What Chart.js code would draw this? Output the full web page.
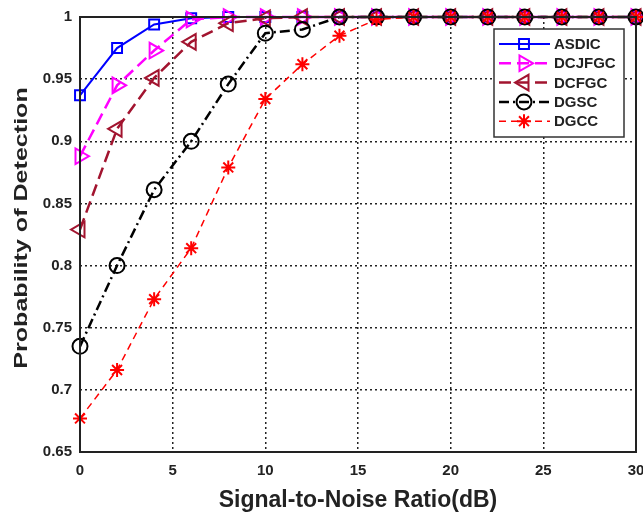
<!DOCTYPE html>
<html>
<head>
<meta charset="utf-8">
<script src="https://cdn.jsdelivr.net/npm/chart.js@4/dist/chart.umd.min.js"></script>
<style>
    html, body { margin: 0; padding: 0; background: #fff; }
    #wrap { width: 643px; height: 518px; }
</style>
</head>
<body>
<div id="wrap"><canvas id="pd"></canvas></div>
<script>
const snr = [0, 2, 4, 6, 8, 10, 12, 14, 16, 18, 20, 22, 24, 26, 28, 30];

const asdic  = [0.937, 0.975, 0.994, 0.999, 1, 1, 1, 1, 1, 1, 1, 1, 1, 1, 1, 1];
const dcjfgc = [0.888, 0.945, 0.973, 0.998, 1, 1, 1, 1, 1, 1, 1, 1, 1, 1, 1, 1];
const dcfgc  = [0.829, 0.910, 0.951, 0.980, 0.995, 0.999, 1, 1, 1, 1, 1, 1, 1, 1, 1, 1];
const dgsc   = [0.735, 0.800, 0.861, 0.900, 0.946, 0.987, 0.990, 1, 1, 1, 1, 1, 1, 1, 1, 1];
const dgcc   = [0.677, 0.716, 0.773, 0.814, 0.879, 0.934, 0.962, 0.985, 0.998, 1, 1, 1, 1, 1, 1, 1];

const xTicks = [0, 5, 10, 15, 20, 25, 30];
const yTicks = [0.65, 0.7, 0.75, 0.8, 0.85, 0.9, 0.95, 1];

const FONT = '"Liberation Sans", Arial, sans-serif';
const Y_TITLE = 'Probability of Detection';

function series(label, values, color, dash, width, style, radius, rotation, order) {
    return {
        label,
        data: values.map((v, i) => ({ x: snr[i], y: v })),
        borderColor: color,
        backgroundColor: 'rgba(0,0,0,0)',
        borderWidth: width,
        borderDash: dash,
        pointStyle: style,
        pointRadius: radius,
        pointRotation: rotation,
        pointBorderColor: color,
        pointBorderWidth: 2,
        pointBackgroundColor: 'rgba(0,0,0,0)',
        tension: 0,
        clip: false,
        order,
    };
}

// box around the axes, y title and MATLAB style legend in the top right corner
const frame = {
    id: 'frame',
    afterDatasetsDraw(chart) {
        const { ctx, chartArea: a } = chart;
        ctx.save();
        ctx.strokeStyle = '#222';
        ctx.lineWidth = 2;
        ctx.setLineDash([]);
        ctx.strokeRect(a.left, a.top, a.right - a.left, a.bottom - a.top);

        // y title, drawn by hand so it can be stretched along its length
        ctx.save();
        ctx.translate(22, 228);
        ctx.rotate(-Math.PI / 2);
        ctx.scale(1.32, 1);
        ctx.fillStyle = '#222';
        ctx.font = 'bold 19px ' + FONT;
        ctx.textAlign = 'center';
        ctx.textBaseline = 'middle';
        ctx.fillText(Y_TITLE, 0, 0);
        ctx.restore();

        const bx = 494, by = 29, bw = 130, bh = 108;
        ctx.fillStyle = '#fff';
        ctx.fillRect(bx, by, bw, bh);
        ctx.strokeStyle = '#333';
        ctx.lineWidth = 1.5;
        ctx.strokeRect(bx, by, bw, bh);

        chart.data.datasets.forEach((ds, i) => {
            const y = by + 15 + i * 19.3;
            ctx.strokeStyle = ds.borderColor;
            ctx.lineWidth = ds.borderWidth;
            ctx.setLineDash(ds.borderDash);
            ctx.beginPath();
            ctx.moveTo(bx + 5, y);
            ctx.lineTo(bx + 56, y);
            ctx.stroke();
            ctx.setLineDash([]);
            ctx.lineWidth = 2;
            ctx.fillStyle = 'rgba(0,0,0,0)';
            Chart.helpers.drawPoint(ctx, {
                pointStyle: ds.pointStyle,
                radius: ds.pointRadius,
                rotation: ds.pointRotation,
                borderWidth: 2,
            }, bx + 30, y);
            ctx.fillStyle = '#222';
            ctx.font = 'bold 15px ' + FONT;
            ctx.textBaseline = 'middle';
            ctx.textAlign = 'left';
            ctx.fillText(ds.label, bx + 60, y + 1);
        });
        ctx.restore();
    }
};

new Chart(document.getElementById('pd'), {
    type: 'line',
    data: {
        datasets: [
            series('ASDIC', asdic, '#0000ff', [], 2, 'rect', 7, 0, 4),
            series('DCJFGC', dcjfgc, '#ff00ff', [12, 6], 2.5, 'triangle', 9, 90, 3),
            series('DCFGC', dcfgc, '#a2142f', [12, 6], 2.5, 'triangle', 9, -90, 2),
            series('DGSC', dgsc, '#000000', [10, 4, 2, 4], 2.5, 'circle', 7.5, 0, 1),
            series('DGCC', dgcc, '#ff0000', [7, 5], 1.5, 'star', 7, 0, 0),
        ],
    },
    options: {
        responsive: true,
        maintainAspectRatio: false,
        animation: false,
        layout: { autoPadding: false, padding: { top: 16, right: 7, left: 0, bottom: 0 } },
        plugins: {
            legend: { display: false },
            tooltip: { enabled: false },
        },
        scales: {
            x: {
                type: 'linear',
                min: 0,
                max: 30,
                afterBuildTicks: (s) => { s.ticks = xTicks.map((v) => ({ value: v })); },
                afterFit: (s) => {
                    s.height = 66;
                    // let the "30" label hang past the plot edge
                    s.getPadding = () => ({ left: 0, right: 0, top: 0, bottom: 0 });
                },
                border: { display: false, dash: [2, 3] },
                grid: { color: '#222', lineWidth: 1.5, drawTicks: false },
                ticks: {
                    color: '#222',
                    padding: 10,
                    maxRotation: 0,
                    font: { family: FONT, size: 15, weight: 'bold' },
                },
                title: {
                    display: true,
                    text: 'Signal-to-Noise Ratio(dB)',
                    color: '#222',
                    padding: { top: 2 },
                    font: { family: FONT, size: 23, weight: 'bold' },
                },
            },
            y: {
                type: 'linear',
                min: 0.65,
                max: 1,
                afterBuildTicks: (s) => { s.ticks = yTicks.map((v) => ({ value: v })); },
                afterFit: (s) => { s.width = 80; },
                border: { display: false, dash: [2, 3] },
                grid: { color: '#222', lineWidth: 1.5, drawTicks: false },
                ticks: {
                    color: '#222',
                    padding: 8,
                    callback: (v) => String(Math.round(v * 100) / 100),
                    font: { family: FONT, size: 15, weight: 'bold' },
                },
            },
        },
    },
    plugins: [frame],
});
</script>
</body>
</html>
